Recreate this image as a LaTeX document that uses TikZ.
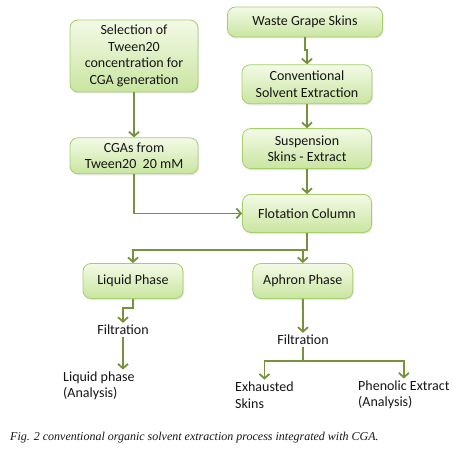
\documentclass[tikz,border=0pt]{standalone}
\usepackage{fontspec}
\setmainfont{Carlito}
\newfontfamily\captionfont{Liberation Serif}
\usetikzlibrary{positioning, arrows.meta, shadows}
\definecolor{boxedge}{HTML}{A6CE6B}
\definecolor{boxtop}{HTML}{F3FAE6}
\definecolor{boxbottom}{HTML}{C9E5A0}
\definecolor{arrowgreen}{HTML}{76923C}
\definecolor{textgray}{HTML}{151515}
\tikzset{
  every node/.style={text=textgray, font=\fontsize{14}{16.5}\selectfont, align=center},
  stepbox/.style={draw=boxedge, line width=0.8pt, rounded corners=8pt, top color=boxtop, bottom color=boxbottom,
    drop shadow={opacity=0.18, shadow xshift=1pt, shadow yshift=-1.5pt}},
  steptext/.style={inner sep=2pt, align=left},
  flow/.style={draw=arrowgreen, line width=1.8pt, -{Straight Barb[length=4.5pt, width=10pt]}}
}

\begin{document}
\begin{tikzpicture}[x=1pt, y=1pt]
  \path[use as bounding box] (0,0) rectangle (453,451);
  % Boxes
  \node (select) [stepbox, minimum width=128pt, minimum height=72pt] at (134,395) {Selection of\\ Tween20\\ concentration for\\ CGA generation};
  \node (cgas) [stepbox, below=45pt of select, minimum width=128pt, minimum height=36pt] {CGAs from\\ Tween20~~20 mM};
  \node (waste) [stepbox, minimum width=155pt, minimum height=30pt] at (305,429) {Waste Grape Skins};
  \node (conv) [stepbox, below=27pt of waste, xshift=2pt, minimum width=130pt, minimum height=39pt] {Conventional\\ Solvent Extraction};
  \node (susp) [stepbox, below=24pt of conv, minimum width=129pt, minimum height=40pt] {Suspension\\ Skins - Extract};
  \node (flot) [stepbox, below=25pt of susp, minimum width=129pt, minimum height=38pt] {Flotation Column};
  \node (liquid) [stepbox, minimum width=100pt, minimum height=35pt] at (133,170) {Liquid Phase};
  \node (aphron) [stepbox, right=69pt of liquid, minimum width=100pt, minimum height=35pt] {Aphron Phase};

  % Plain texts
  \node (filtL) [steptext] at (123,121) {Filtration};
  \node (filtR) [steptext] at (303,111) {Filtration};
  \node (liqres) [steptext, anchor=west] at (61,65) {Liquid phase\\ (Analysis)};
  \node (exhaust) [steptext, anchor=west] at (233,56) {Exhausted\\ Skins};
  \node (phenolic) [steptext, anchor=west] at (356,56) {Phenolic Extract\\ (Analysis)};
  \node (caption) [anchor=west, inner sep=0pt, font=\captionfont\itshape\fontsize{12}{13}\selectfont] at (10,13)
    {Fig. 2 conventional organic solvent extraction process integrated with CGA.};

  % Arrows
  \draw[flow] (select) -- (cgas);
  \draw[flow] (cgas) |- (flot);
  \draw[flow] (waste.south) -- ++(0,-13) -| (conv.north);
  \draw[flow] (conv) -- (susp);
  \draw[flow] (susp) -- (flot);
  \draw[flow] (flot.south) -- ++(0,-17) coordinate (split) -| (liquid.north);
  \draw[flow] (split) -| (aphron.north);
  \draw[flow] (liquid.south) -- ++(0,-9) -| (filtL.north);
  \draw[flow] (filtL) -- (filtL |- liqres.north);
  \draw[flow] (aphron) -- (filtR);
  \draw[flow] (filtR.south) -- ++(0,-14) coordinate (fork) -| (exhaust.north);
  \draw[flow] (fork) -| (phenolic.north);
\end{tikzpicture}
\end{document}
